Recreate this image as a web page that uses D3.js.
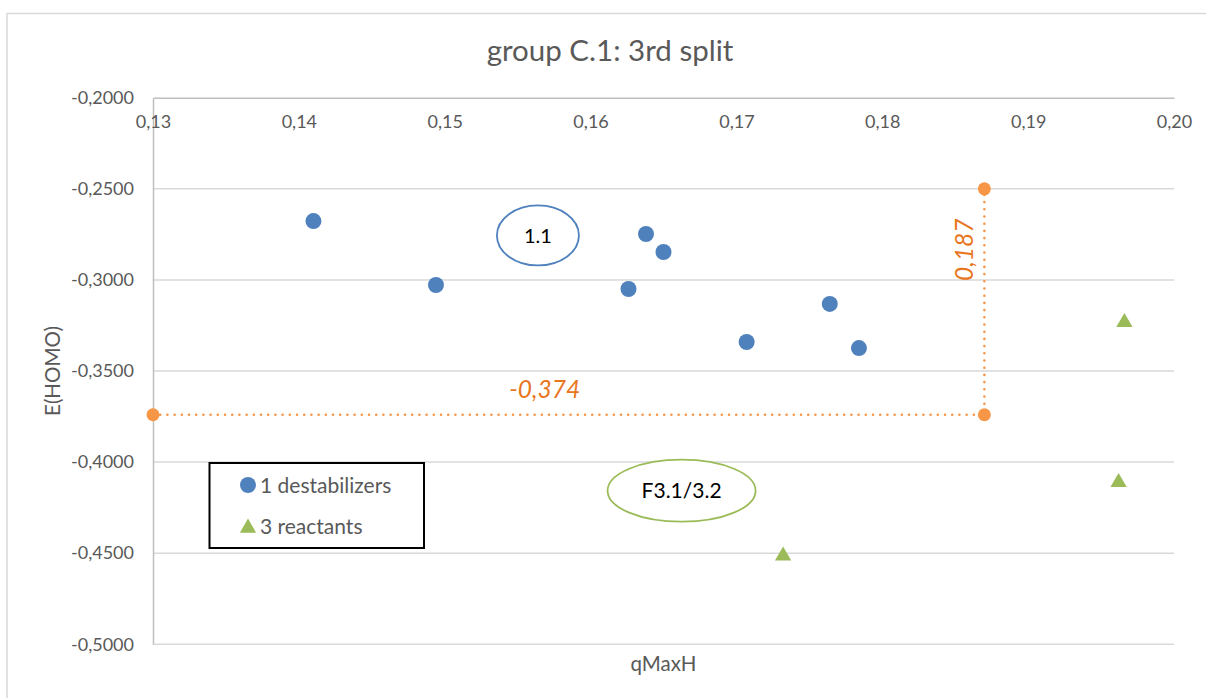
<!DOCTYPE html>
<html>
<head>
<meta charset="utf-8">
<script src="https://cdn.jsdelivr.net/npm/d3@7"></script>
<style>
  html, body { margin: 0; padding: 0; background: #fff; }
  svg { display: block; font-family: Lato, "Open Sans", sans-serif; }
</style>
</head>
<body>
<svg id="chart" width="1206" height="698"></svg>
<script>
// ---- data ----
const chartTitle = "group C.1: 3rd split";
const xTitle = "qMaxH";
const yTitle = "E(HOMO)";
const xTicks = [0.13, 0.14, 0.15, 0.16, 0.17, 0.18, 0.19, 0.20];
const yTicks = [-0.20, -0.25, -0.30, -0.35, -0.40, -0.45, -0.50];

const destabilizersX = [0.1410, 0.1494, 0.1626, 0.1638, 0.1650, 0.1707, 0.1764, 0.1784];
const destabilizersY = [-0.2677, -0.3028, -0.3050, -0.2748, -0.2847, -0.3341, -0.3132, -0.3374];

const reactantsX = [0.1966, 0.1962, 0.1732];
const reactantsY = [-0.3225, -0.4103, -0.4506];

const guideX = [0.130, 0.187, 0.187];
const guideY = [-0.374, -0.374, -0.250];

const seriesNames = ["1 destabilizers", "3 reactants"];

const ellipseLabels = ["1.1", "F3.1/3.2"];
const ellipseCX = [0.15639, 0.16624];
const ellipseCY = [-0.2756, -0.4157];

// ---- layout / style ----
const W = 1206, H = 698;
const plot = { left: 153, right: 1174, top: 97.7, bottom: 644.3 };
const C = {
  blue: "#4F81BD", green: "#9BBB59", orange: "#F79646", orangeText: "#E8761E",
  text: "#595959", grid: "#d9d9d9", axis: "#bfbfbf"
};

const loc = d3.formatLocale({ decimal: ",", thousands: ".", grouping: [3], currency: ["", ""], minus: "-" });
const fx = loc.format(".2f"), fy = loc.format(".4f"), f3 = loc.format(".3f");

const svg = d3.select("#chart");
const x = d3.scaleLinear().domain([0.13, 0.20]).range([plot.left, plot.right]);
const y = d3.scaleLinear().domain([-0.5, -0.2]).range([plot.bottom, plot.top]);

// chart area border
svg.append("rect").attr("x", 7).attr("y", 13.5).attr("width", W + 20).attr("height", H + 20)
  .attr("fill", "#fff").attr("stroke", C.grid).attr("stroke-width", 1.5);

// title
svg.append("text").attr("x", 610).attr("y", 61).attr("text-anchor", "middle")
  .attr("font-size", 29.5).attr("fill", C.text).text(chartTitle);

// gridlines
svg.append("g").selectAll("line").data(yTicks.filter(d => d !== -0.2)).join("line")
  .attr("x1", plot.left).attr("x2", plot.right)
  .attr("y1", d => y(d)).attr("y2", d => y(d))
  .attr("stroke", C.grid).attr("stroke-width", 1.5);

// y axis
const yAxis = svg.append("g").attr("transform", `translate(${plot.left},0)`)
  .call(d3.axisLeft(y).tickValues(yTicks).tickFormat(fy).tickSize(0).tickPadding(19));
yAxis.select(".domain").attr("stroke", C.axis).attr("stroke-width", 1.5);
yAxis.selectAll("text").attr("font-size", 18).attr("fill", C.text).attr("font-family", "Lato");

// x axis (positioned at top, labels below the line)
const xAxis = svg.append("g").attr("transform", `translate(0,${plot.top})`)
  .call(d3.axisBottom(x).tickValues(xTicks).tickFormat(fx).tickSize(0).tickPadding(18));
xAxis.select(".domain").attr("stroke", C.axis).attr("stroke-width", 1.5);
xAxis.selectAll("text").attr("font-size", 18).attr("fill", C.text).attr("font-family", "Lato");

// axis titles
svg.append("text").attr("transform", `translate(60,${(plot.top + plot.bottom) / 2}) rotate(-90)`)
  .attr("text-anchor", "middle").attr("font-size", 20.5).attr("fill", C.text).text(yTitle);
svg.append("text").attr("x", (plot.left + plot.right) / 2).attr("y", 671)
  .attr("text-anchor", "middle").attr("font-size", 20.5).attr("fill", C.text).text(xTitle);

// guide line (orange dotted)
const guide = guideX.map((v, i) => [v, guideY[i]]);
svg.append("path").datum(guide)
  .attr("d", d3.line().x(d => x(d[0])).y(d => y(d[1])))
  .attr("fill", "none").attr("stroke", C.orange).attr("stroke-width", 2.6)
  .attr("stroke-linecap", "round").attr("stroke-dasharray", "0 7.2");
svg.append("g").selectAll("circle").data(guide).join("circle")
  .attr("cx", d => x(d[0])).attr("cy", d => y(d[1])).attr("r", 6.5).attr("fill", C.orange);

// guide labels
svg.append("text").attr("x", (x(guideX[0]) + x(guideX[1])) / 2 - 24).attr("y", y(guideY[0]) - 17)
  .attr("text-anchor", "middle").attr("font-size", 24.5).attr("font-style", "italic")
  .attr("fill", C.orangeText).text(f3(guideY[0]));
svg.append("text")
  .attr("transform", `translate(${x(guideX[1]) - 11},${(y(guideY[1]) + y(guideY[2])) / 2 - 52}) rotate(-90)`)
  .attr("text-anchor", "middle").attr("font-size", 24.5).attr("font-style", "italic")
  .attr("fill", C.orangeText).text(f3(guideX[1]));

// destabilizers
svg.append("g").selectAll("circle").data(destabilizersX.map((v, i) => [v, destabilizersY[i]])).join("circle")
  .attr("cx", d => x(d[0])).attr("cy", d => y(d[1])).attr("r", 8).attr("fill", C.blue);

// reactants (triangles)
const tri = d3.symbol().type(d3.symbolTriangle).size(115);
svg.append("g").selectAll("path").data(reactantsX.map((v, i) => [v, reactantsY[i]])).join("path")
  .attr("transform", d => `translate(${x(d[0])},${y(d[1]) + 1.5})`)
  .attr("d", tri).attr("fill", C.green);

// annotation ellipses
const ellR = [[41, 30], [74, 31]];
const ellColor = [C.blue, C.green];
ellipseLabels.forEach((lab, i) => {
  const cx = x(ellipseCX[i]), cy = y(ellipseCY[i]);
  svg.append("ellipse").attr("cx", cx).attr("cy", cy).attr("rx", ellR[i][0]).attr("ry", ellR[i][1])
    .attr("fill", "#fff").attr("stroke", ellColor[i]).attr("stroke-width", 1.8);
  svg.append("text").attr("x", cx).attr("y", cy).attr("dy", "0.36em").attr("text-anchor", "middle")
    .attr("font-size", i === 0 ? 20 : 21).attr("fill", "#000").text(lab);
});

// legend
const lg = svg.append("g");
lg.append("rect").attr("x", 209.5).attr("y", 463).attr("width", 214.5).attr("height", 85)
  .attr("fill", "#fff").attr("stroke", "#000").attr("stroke-width", 2);
lg.append("circle").attr("cx", 248).attr("cy", 485).attr("r", 8).attr("fill", C.blue);
lg.append("path").attr("transform", "translate(248,528)").attr("d", tri).attr("fill", C.green);
seriesNames.forEach((s, i) => {
  lg.append("text").attr("x", 260).attr("y", 485 + i * 41.5).attr("dy", "0.36em")
    .attr("font-size", 21).attr("fill", C.text).text(s);
});
</script>
</body>
</html>
